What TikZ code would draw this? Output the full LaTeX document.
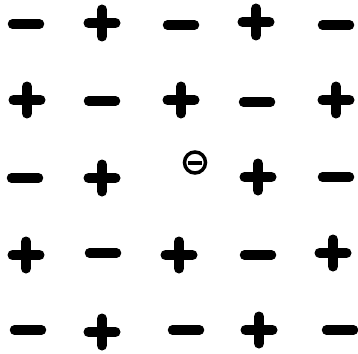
\documentclass[tikz,border=0pt]{standalone}
\tikzset{
  pos/.pic={\draw[line width=10pt,line cap=round] (-13.5,0) -- (13.5,0) (0,-13.5) -- (0,13.5);},
  neg/.pic={\draw[line width=9.5pt,line cap=round] (-13.5,0) -- (13.5,0);}
}
\begin{document}
\begin{tikzpicture}[x=1pt,y=-1pt]
    \useasboundingbox (0,0) rectangle (358,353);
    \pic at (26,24) {neg};
    \pic at (102,23) {pos};
    \pic at (181,25) {neg};
    \pic at (256,22) {pos};
    \pic at (336,25) {neg};
    \pic at (27,100) {pos};
    \pic at (102,101) {neg};
    \pic at (181,100) {pos};
    \pic at (257,102) {neg};
    \pic at (336,100) {pos};
    \pic at (25,178) {neg};
    \pic at (102,178) {pos};
    \pic at (258,177) {pos};
    \pic at (336,177) {neg};
    \pic at (26,255) {pos};
    \pic at (103,253) {neg};
    \pic at (179,255) {pos};
    \pic at (258,255) {neg};
    \pic at (333,253) {pos};
    \pic at (28,330) {neg};
    \pic at (102,332) {pos};
    \pic at (186,330) {neg};
    \pic at (259,330) {pos};
    \pic at (340,330) {neg};
    % electron
    \draw[line width=3.5pt] (195,162.5) circle (10.5);
    \draw[line width=4pt] (188,162.5) -- (202,162.5);
\end{tikzpicture}
\end{document}
